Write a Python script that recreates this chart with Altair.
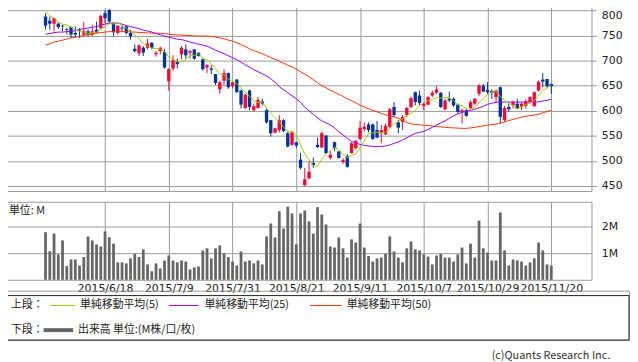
import altair as alt
import pandas as pd

# ---------------- data ----------------
opens = [788.1, 779.6, 773.7, 773.7, 769.8, 763.2, 767.1, 755.3, 760.0, 752.1,
         758.6, 752.1, 761.9, 765.2, 794.7, 801.3, 775.0, 755.3, 766.0, 768.5,
         755.3, 723.8, 714.6, 725.8, 725.8, 735.6, 712.7, 719.2, 717.3, 658.9,
         684.4, 697.6, 712.7, 722.5, 716.0, 722.5, 716.0, 702.8, 686.4, 684.4,
         673.3, 642.5, 660.2, 675.3, 649.0, 662.2, 640.5, 605.7, 640.5, 601.1,
         605.7, 618.8, 601.1, 581.4, 556.5, 561.7, 581.4, 555.2, 532.2, 537.4,
         502.6, 451.5, 465.3, 496.0, 532.2, 527.0, 550.6, 506.0, 537.4, 519.1,
         498.0, 509.2, 515.8, 525.6, 544.0, 563.7, 572.9, 572.9, 561.7, 555.2,
         553.2, 568.3, 607.7, 576.8, 578.1, 591.3, 607.7, 637.2, 630.6, 609.7,
         612.3, 630.6, 635.9, 635.9, 603.1, 624.0, 624.0, 612.3, 597.8, 601.1,
         605.7, 614.3, 634.0, 650.3, 641.8, 639.2, 627.3, 647.0, 581.4, 607.7,
         611.0, 614.3, 607.7, 609.7, 617.5, 609.7, 640.5, 662.2, 663.5, 653.6]
highs = [794.7, 788.1, 786.0, 776.3, 771.7, 765.2, 768.5, 768.5, 765.2, 777.0,
         761.9, 771.7, 778.3, 791.4, 800.0, 802.6, 776.3, 769.8, 769.8, 769.8,
         761.9, 732.4, 732.4, 729.1, 743.5, 737.0, 719.2, 727.8, 723.8, 685.0,
         710.7, 704.1, 729.1, 732.4, 721.2, 722.5, 716.0, 704.0, 693.0, 691.0,
         673.3, 660.2, 683.1, 676.6, 658.2, 663.5, 642.4, 634.0, 642.4, 614.3,
         627.3, 624.0, 604.4, 581.4, 566.3, 591.3, 583.4, 558.5, 558.5, 538.8,
         515.8, 486.3, 499.4, 507.2, 546.6, 558.5, 551.9, 520.4, 538.8, 519.1,
         506.0, 513.8, 537.4, 542.0, 579.4, 576.8, 576.8, 574.8, 579.4, 571.6,
         574.8, 605.7, 617.5, 581.4, 591.3, 607.7, 628.6, 638.5, 640.5, 617.5,
         629.3, 640.5, 649.0, 637.2, 624.0, 638.5, 627.3, 614.3, 604.4, 604.4,
         620.8, 625.4, 653.6, 653.6, 656.9, 642.4, 642.4, 648.4, 609.7, 614.3,
         620.8, 624.0, 617.5, 622.8, 629.3, 638.5, 660.2, 675.3, 663.5, 654.3]
lows = [761.9, 761.9, 758.6, 763.2, 758.6, 752.1, 745.5, 745.5, 745.5, 750.0,
        748.8, 748.8, 754.0, 763.2, 775.0, 775.0, 748.8, 752.1, 758.6, 752.1,
        742.2, 716.0, 709.4, 709.4, 722.5, 722.5, 708.1, 712.7, 684.0, 640.5,
        679.9, 684.4, 702.8, 704.1, 704.1, 701.5, 708.0, 679.9, 675.3, 673.3,
        651.6, 633.9, 650.3, 643.8, 645.1, 635.9, 604.4, 603.1, 601.1, 599.1,
        604.4, 611.0, 574.8, 548.6, 555.2, 557.2, 557.2, 526.9, 530.9, 525.6,
        483.0, 450.2, 463.3, 486.3, 525.6, 525.6, 513.8, 502.7, 519.1, 504.6,
        494.1, 486.3, 515.1, 522.3, 542.0, 558.5, 557.2, 542.0, 545.3, 535.5,
        551.9, 566.3, 588.0, 555.2, 561.7, 588.0, 605.7, 611.0, 611.0, 601.1,
        611.0, 627.3, 634.0, 605.7, 601.1, 617.5, 607.7, 594.5, 574.8, 588.0,
        603.1, 611.0, 629.3, 637.2, 634.0, 624.0, 617.5, 574.8, 578.1, 597.8,
        604.4, 603.1, 601.1, 604.4, 614.3, 607.7, 638.5, 647.0, 647.0, 633.9]
closes = [769.8, 773.7, 784.9, 767.1, 768.5, 761.9, 752.1, 752.1, 759.0, 758.6,
          752.1, 758.6, 756.6, 789.5, 784.9, 778.3, 756.6, 769.8, 764.0, 755.3,
          748.8, 719.2, 730.4, 716.0, 734.3, 725.8, 716.0, 725.8, 686.4, 683.1,
          700.9, 693.0, 725.8, 710.7, 719.2, 704.1, 709.4, 683.1, 691.0, 681.8,
          655.6, 656.9, 675.3, 647.0, 656.9, 637.2, 612.3, 632.0, 607.7, 609.0,
          622.1, 614.3, 576.8, 555.2, 565.0, 581.4, 559.8, 528.9, 557.2, 530.9,
          486.3, 463.3, 478.5, 492.0, 527.6, 555.2, 515.8, 512.5, 525.6, 506.0,
          502.0, 488.3, 535.5, 540.1, 566.3, 568.3, 561.7, 544.0, 546.6, 561.7,
          570.3, 603.1, 591.3, 566.3, 588.0, 605.7, 625.4, 617.5, 615.5, 614.3,
          627.3, 635.9, 642.4, 607.7, 620.8, 620.8, 611.0, 597.8, 601.1, 590.0,
          617.5, 624.0, 650.3, 638.5, 637.2, 635.9, 640.5, 588.0, 605.7, 603.1,
          617.5, 604.4, 614.3, 618.8, 627.3, 637.2, 658.2, 658.2, 649.0, 649.0]
# closes of the last sessions before the window (needed for the 5-day average)
prior_closes = [815.0, 812.0, 805.0, 790.0]
# volume, millions of shares
volumes = [1.80, 1.08, 1.75, 0.96, 1.49, 0.52, 0.77, 0.77, 0.54, 0.86,
           1.64, 1.49, 1.34, 1.26, 1.83, 1.61, 1.37, 0.66, 0.66, 0.62,
           0.81, 0.98, 0.86, 1.15, 0.58, 0.32, 0.62, 0.43, 0.73, 0.92,
           0.73, 0.66, 0.73, 0.69, 0.39, 0.47, 0.50, 1.11, 1.19, 0.81,
           1.19, 1.30, 1.00, 0.86, 0.69, 0.54, 1.07, 0.69, 0.73, 0.62,
           0.73, 0.58, 1.64, 2.13, 1.60, 2.59, 1.94, 2.77, 2.51, 1.34,
           2.51, 2.62, 2.21, 1.75, 2.75, 2.47, 2.09, 1.26, 1.22, 1.60,
           1.19, 0.84, 1.53, 1.41, 2.13, 1.22, 0.90, 0.69, 0.81, 0.84,
           0.98, 1.64, 1.07, 0.84, 0.66, 1.19, 1.45, 1.15, 1.11, 0.96,
           0.88, 0.58, 0.92, 0.98, 0.84, 0.84, 0.69, 0.96, 1.22, 0.62,
           1.37, 0.84, 2.24, 1.19, 1.03, 0.73, 0.73, 2.55, 1.11, 0.54,
           0.77, 0.73, 0.69, 0.54, 0.66, 0.81, 1.41, 1.11, 0.58, 0.54]
ma25 = [753, 754, 756, 757, 757, 758, 758.5, 760, 762, 764,
        765, 766.5, 768, 771, 773, 775, 775, 775, 773, 770,
        768, 766, 764, 761, 759, 757, 754, 752, 749, 747,
        745, 743, 742, 740, 737, 735, 733, 731, 729, 725,
        721, 717, 714, 710, 706, 702, 697, 692, 687, 682,
        678, 674, 670, 664, 657, 648, 642, 636, 630, 624,
        617, 607, 600, 593, 586, 580, 576, 572, 566, 558,
        552, 545, 539, 536, 533, 531, 530, 529, 529, 529,
        530, 532, 535, 538, 542, 546, 551, 555, 557, 559,
        563, 567, 572, 576, 580, 585, 590, 594, 597, 599,
        601, 603, 606, 609, 613, 615, 617, 617.5, 617.5, 617.5,
        617.5, 617.5, 617.5, 617.5, 617.5, 617.5, 618, 619.5, 621, 623]
ma50 = [731, 734, 737, 739, 741, 743, 745.5, 747, 748.5, 750,
        752, 753.5, 755, 756, 757, 758, 758, 758, 758, 758,
        757.5, 757, 756.5, 756, 755.5, 755, 755, 754.5, 754, 753,
        752, 751.5, 751, 750.5, 750, 749.5, 749, 749, 749, 748.5,
        747, 745.5, 744, 741, 739, 736, 732, 728, 724, 720,
        717, 714, 710, 706, 703, 699, 695, 691, 688, 683,
        678, 673, 668, 662, 656, 650, 646, 641, 637, 633,
        629, 624, 620, 616, 611, 608, 604, 601, 598, 595,
        592, 590, 588, 585, 581, 577, 574, 573, 572, 571.5,
        570.5, 569.5, 568.5, 568, 567, 566.5, 566, 565.5, 565, 565,
        566, 567, 568.5, 570, 571.5, 572.5, 573.5, 575, 578, 580.5,
        583, 585, 587.5, 589, 590.5, 591.5, 593, 596, 598.5, 601]
tick_index = [14, 29, 44, 59, 74, 89, 104, 119]
tick_labels = ["2015/6/18", "2015/7/9", "2015/7/31", "2015/8/21",
               "2015/9/11", "2015/10/7", "2015/10/29", "2015/11/20"]
price_ticks = [450, 500, 550, 600, 650, 700, 750, 800]
vol_ticks = [1, 2]

# ---------------- styling ----------------
RED = "#ff0033"
BLUE = "#003399"
GRID = "#999999"
TXT = "#222222"
NUM_FONT = "DejaVu Sans"
CJK_FONT = "Noto Sans CJK JP"

n = len(closes)
df = pd.DataFrame({"i": list(range(n)), "open": opens, "high": highs, "low": lows,
                   "close": closes, "vol": volumes, "ma25": ma25, "ma50": ma50})
ma5_src = pd.DataFrame({"i": list(range(-len(prior_closes), n)),
                        "c": prior_closes + closes})

xscale = alt.Scale(domain=[-8.6, 127.3], nice=False, zero=False)
pscale = alt.Scale(domain=[440.2, 812.4], nice=False, zero=False)
vscale = alt.Scale(domain=[0, 2.95], nice=False, zero=False)

x_grid_axis = alt.Axis(values=tick_index, grid=True, gridColor=GRID, gridWidth=1,
                       labels=False, ticks=False, domain=False, title=None)
X = alt.X("i:Q", scale=xscale, axis=x_grid_axis)

py_axis = alt.Axis(orient="right", values=price_ticks, grid=True, gridColor=GRID,
                   gridWidth=1, tickColor=GRID, tickSize=5, domain=False,
                   labelFont=NUM_FONT, labelFontSize=11, labelColor=TXT,
                   labelPadding=5, labelFlush=False, labelOverlap=False, title=None,
                   labelOffset={"condition": {"test": "datum.value == 800", "value": 5},
                                "value": 0})

updown = alt.condition("datum.close >= datum.open", alt.value(RED), alt.value(BLUE))

base = alt.Chart(df)
wicks = base.mark_rule(strokeWidth=1).encode(
    x=X, y=alt.Y("low:Q", scale=pscale, axis=py_axis), y2="high:Q", color=updown)
bodies = base.mark_bar(size=3.4).encode(
    x=X, y=alt.Y("open:Q", scale=pscale, axis=py_axis), y2="close:Q", color=updown)
line25 = base.mark_line(strokeWidth=1, color="#9900ff").encode(
    x=X, y=alt.Y("ma25:Q", scale=pscale, axis=py_axis))
line50 = base.mark_line(strokeWidth=1, color="#ff3300").encode(
    x=X, y=alt.Y("ma50:Q", scale=pscale, axis=py_axis))
line5 = alt.Chart(ma5_src).transform_window(
    ma5="mean(c)", frame=[-4, 0], sort=[alt.SortField("i")]
).transform_filter("datum.i >= 0").mark_line(strokeWidth=1, color="#99cc00").encode(
    x=X, y=alt.Y("ma5:Q", scale=pscale, axis=py_axis))

price = alt.layer(wicks, bodies, line50, line25, line5).properties(width=595, height=189)

label_expr = " : ".join(f"datum.value == {p} ? '{l}'" for p, l in zip(tick_index, tick_labels)) + " : ''"
vx_axis = alt.Axis(values=tick_index, labelExpr=label_expr, grid=True, gridColor=GRID,
                   gridWidth=1, ticks=False, tickSize=0, domain=False,
                   labelFont=NUM_FONT, labelFontSize=11, labelColor=TXT,
                   labelPadding=3, labelFlush=False, labelOverlap=False, title=None)
vy_axis = alt.Axis(orient="right", values=vol_ticks, labelExpr="datum.value + 'M'",
                   grid=True, gridColor=GRID, gridWidth=1, ticks=False, tickSize=0,
                   domain=False, labelFont=NUM_FONT, labelFontSize=11, labelColor=TXT,
                   labelPadding=10, labelFlush=False, title=None)
vol_bars = base.mark_bar(size=2.8, color="#666666").encode(
    x=alt.X("i:Q", scale=xscale, axis=vx_axis),
    y=alt.Y("vol:Q", scale=vscale, axis=vy_axis))
unit_txt = alt.Chart(alt.Data(values=[{"t": "単位: M"}])).mark_text(
    align="left", baseline="middle", font=CJK_FONT, fontSize=11, color=TXT
).encode(text="t:N", x=alt.value(5), y=alt.value(9))
volume = alt.layer(vol_bars, unit_txt).properties(width=595, height=79)


def ltext(t, x, y, align="left", color=TXT):
    return alt.Chart(alt.Data(values=[{"t": t}])).mark_text(
        align=align, baseline="middle", font=CJK_FONT, fontSize=11, color=color
    ).encode(text="t:N", x=alt.value(x), y=alt.value(y))


def lline(x1, x2, y, color, w):
    return alt.Chart(alt.Data(values=[{"a": 1}])).mark_rule(
        color=color, strokeWidth=w).encode(x=alt.value(x1), x2=alt.value(x2), y=alt.value(y))


box = alt.Chart(alt.Data(values=[{"a": 1}])).mark_rect(
    fillOpacity=0, stroke="#222222", strokeWidth=1
).encode(x=alt.value(0), x2=alt.value(633), y=alt.value(5), y2=alt.value(50))

R1, R2 = 15, 40
legend = alt.layer(
    box,
    ltext("上段：", 7, R1),
    lline(47, 72, R1, "#99cc00", 1), ltext("単純移動平均(5)", 77, R1),
    lline(167, 197, R1, "#9900ff", 1), ltext("単純移動平均(25)", 203, R1),
    lline(310, 342, R1, "#ff3300", 1), ltext("単純移動平均(50)", 347, R1),
    ltext("下段：", 7, R2),
    lline(40, 70, R2, "#666666", 4), ltext("出来高 単位:(M株/口/枚)", 75, R2),
    ltext("(c)Quants Research Inc.", 614, 66, align="right", color="#333333"),
).properties(width=633, height=50)

chart = alt.vconcat(price, volume, legend, spacing=11, bounds="flush").properties(
    padding={"left": -5, "top": -7, "right": 0, "bottom": 0}
).configure_view(stroke=GRID, strokeWidth=1)

chart.save("out.html", embed_options={"renderer": "svg", "actions": False})
